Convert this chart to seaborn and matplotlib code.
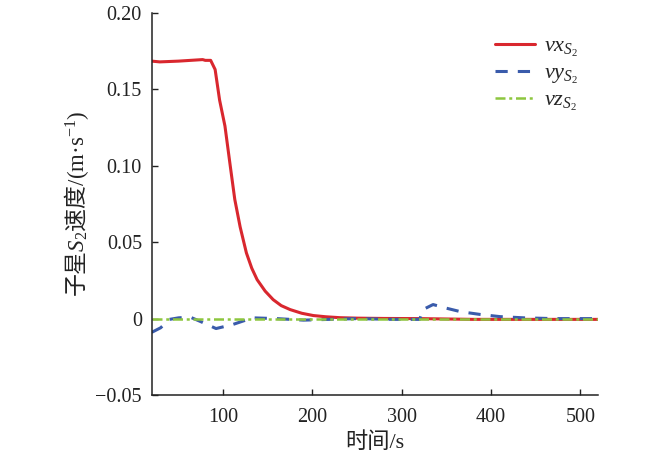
import numpy as np
import pandas as pd
import matplotlib
matplotlib.use("Agg")
import matplotlib.pyplot as plt
import seaborn as sns
from matplotlib.ticker import FixedLocator

# ---- data ----
t_vx = [20, 29, 50, 77, 80, 86, 91, 96, 102, 108, 113, 119, 126, 132, 138, 147,
        156, 165, 175, 188, 201, 215, 231, 250, 280, 320, 380, 420, 520]
vx = [0.1685, 0.168, 0.1685, 0.1695, 0.169, 0.169, 0.163, 0.143, 0.126, 0.0996,
      0.078, 0.060, 0.043, 0.033, 0.0255, 0.018, 0.0124, 0.0085, 0.0059, 0.0035,
      0.002, 0.0012, 0.0006, 0.0003, 0.0001, 0.0, -0.0005, -0.0005, -0.0005]

t_vy = [20, 30, 40, 50, 63, 75, 92, 110, 133, 160, 190, 219, 250, 290, 320, 324,
        335, 350, 366, 388, 410, 437, 470, 520]
vy = [-0.009, -0.006, -0.0005, 0.0005, 0.001, -0.002, -0.0065, -0.004, 0.0005, 0.0,
      -0.001, -0.0005, 0.0, -0.0005, -0.0005, 0.006, 0.0092, 0.0068, 0.0045, 0.0027,
      0.0013, 0.0005, 0.0, 0.0]

t_vz = [20, 520]
vz = [0.0, 0.0]

x_ticks = [100, 200, 300, 400, 500]
y_ticks = [-0.05, 0, 0.05, 0.10, 0.15, 0.20]
y_tick_labels = ["\u22120.05", "0", "0.05", "0.10", "0.15", "0.20"]

sns.set_theme(style="ticks")
plt.rcParams['font.family'] = ['Liberation Serif', 'Noto Sans CJK SC']
plt.rcParams['mathtext.fontset'] = 'custom'
plt.rcParams['mathtext.rm'] = 'Liberation Serif'
plt.rcParams['mathtext.it'] = 'Liberation Serif:italic'
plt.rcParams['mathtext.sf'] = 'Noto Sans CJK SC'

fig = plt.figure(figsize=(6.5, 4.59), dpi=100)
ax = fig.add_axes([0.2334, 0.1394, 0.6871, 0.8323])

df_x = pd.DataFrame({"t": t_vx, "v": vx})
df_y = pd.DataFrame({"t": t_vy, "v": vy})
df_z = pd.DataFrame({"t": t_vz, "v": vz})

sns.lineplot(data=df_x, x="t", y="v", ax=ax, color="#d9272e", lw=2.2,
             label=r"$vx_{S_2}$")
sns.lineplot(data=df_y, x="t", y="v", ax=ax, color="#3a5bab", lw=2.2,
             label=r"$vy_{S_2}$")
ax.lines[-1].set_dashes((4, 3.3))
sns.lineplot(data=df_z, x="t", y="v", ax=ax, color="#8dc63f", lw=1.8,
             label=r"$vz_{S_2}$")
ax.lines[-1].set_dashes((4, 1.5, 1.2, 1.5))

ax.set_xlim(20, 520)
ax.set_ylim(-0.05, 0.20)
ax.xaxis.set_major_locator(FixedLocator(x_ticks))
ax.yaxis.set_major_locator(FixedLocator(y_ticks))
ax.set_yticklabels(y_tick_labels)
ax.tick_params(direction="in", length=4, width=1, labelsize=14.5, colors="#222222")
ax.tick_params(axis="x", pad=9)
ax.tick_params(axis="y", pad=7)
for s in ["top", "right"]:
    ax.spines[s].set_visible(False)
for s in ["left", "bottom"]:
    ax.spines[s].set_linewidth(1.1)
    ax.spines[s].set_color("#222222")

ax.set_xlabel("时间/s", fontsize=16, color="#222222", labelpad=4)
ax.set_ylabel(r"$\mathsf{子星}S_2\mathsf{速度}\mathrm{/(m·s}^{-1}\mathrm{)}$",
              fontsize=16.5, color="#222222", labelpad=3)

leg = ax.legend(loc="upper right", frameon=False, fontsize=16, handlelength=1.8,
                handletextpad=0.4, labelspacing=0.2, borderaxespad=0.3,
                bbox_to_anchor=(0.99, 0.98))

fig.savefig("out.png", dpi=100)
